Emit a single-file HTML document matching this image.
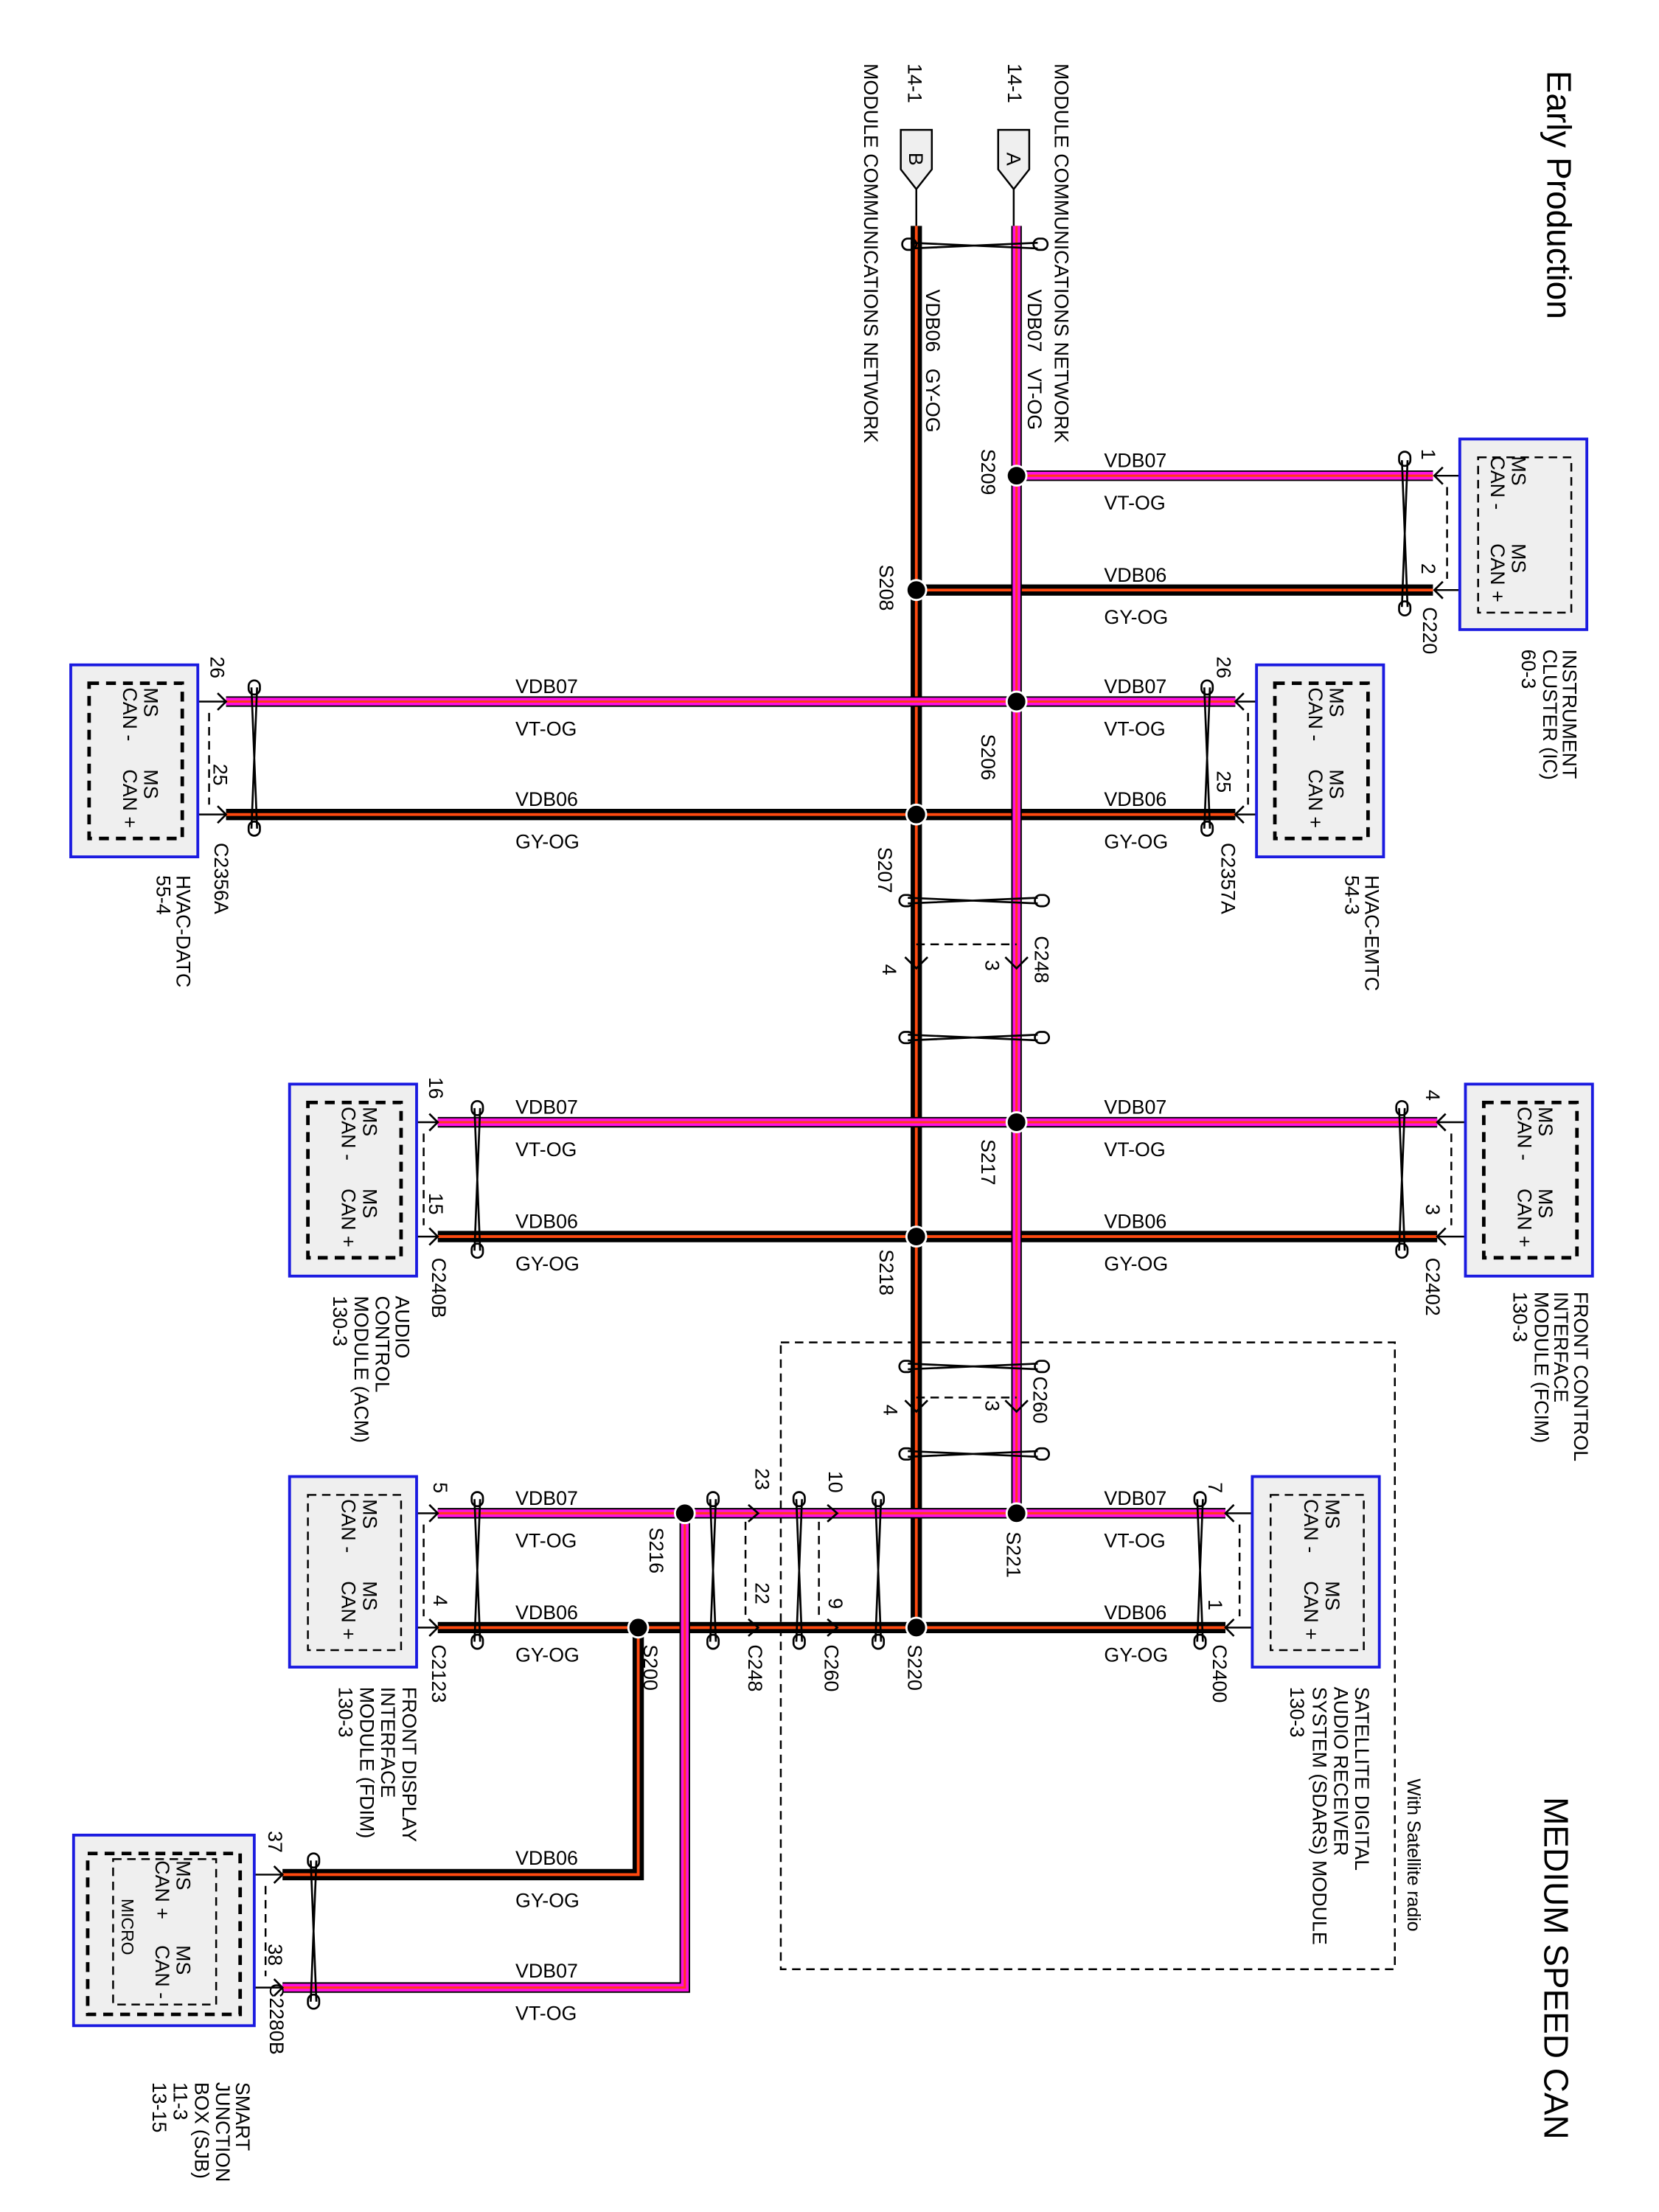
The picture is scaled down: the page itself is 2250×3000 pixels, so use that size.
<!DOCTYPE html>
<html><head><meta charset="utf-8"><style>
html,body{margin:0;padding:0;background:#fff}
svg{display:block}
text{font-family:"Liberation Sans",Arial,sans-serif;font-size:14px;fill:#000}
.big{font-size:24px}
.bo{fill:none;stroke:#000;stroke-width:8}
.pk{fill:none;stroke:#ff10e0;stroke-width:5.5}
.ps{fill:none;stroke:#ff3a1a;stroke-width:1.6}
.bs{fill:none;stroke:#ff4a10;stroke-width:2}
.thin{fill:none;stroke:#000;stroke-width:1.3}
.dash{fill:none;stroke:#000;stroke-width:1.3;stroke-dasharray:6 4}
.dashb{fill:none;stroke:#000;stroke-width:2.5;stroke-dasharray:7 5}
.box{fill:#efefef;stroke:#1a1ae0;stroke-width:2}
.tw{fill:none;stroke:#000;stroke-width:1.4}
</style></head><body>
<svg width="2250" height="3000" viewBox="0 0 1175 1567" xmlns="http://www.w3.org/2000/svg">
<defs>
<path id="b1" d="M649 160 V1153"/>
<path id="b2" d="M649 418 H1015"/>
<path id="b3" d="M160 577 H875"/>
<path id="b4" d="M310 876 H1018"/>
<path id="b5" d="M310 1153 H868"/>
<path id="b6" d="M452 1153 V1328 H200"/>
<path id="p1" d="M720 160 V1072"/>
<path id="p2" d="M720 337 H1015"/>
<path id="p3" d="M160 497 H875"/>
<path id="p4" d="M310 795 H1018"/>
<path id="p5" d="M310 1072 H868"/>
<path id="p6" d="M485 1072 V1408 H200"/>
</defs>

<rect x="553" y="951" width="435" height="444" class="dash" stroke-width="1.5"/>

<g class="bo"><use href="#b1"/><use href="#b2"/><use href="#b3"/><use href="#b4"/><use href="#b5"/><use href="#b6"/></g>
<g class="bs"><use href="#b1"/><use href="#b2"/><use href="#b3"/><use href="#b4"/><use href="#b5"/><use href="#b6"/></g>
<g class="bo" style="stroke-width:7.5"><use href="#p1"/><use href="#p2"/><use href="#p3"/><use href="#p4"/><use href="#p5"/><use href="#p6"/></g>
<g class="pk"><use href="#p1"/><use href="#p2"/><use href="#p3"/><use href="#p4"/><use href="#p5"/><use href="#p6"/></g>
<g class="ps"><use href="#p1"/><use href="#p2"/><use href="#p3"/><use href="#p4"/><use href="#p5"/><use href="#p6"/></g>

<path d="M707 92 H729 V120 L718 134 L707 120 Z" fill="#efefef" stroke="#000" stroke-width="1.3"/>
<path d="M638 92 H660 V120 L649 134 L638 120 Z" fill="#efefef" stroke="#000" stroke-width="1.3"/>
<line x1="718" y1="134" x2="718" y2="160" class="thin"/>
<line x1="649" y1="134" x2="649" y2="160" class="thin"/>
<text transform="translate(713,108) rotate(90)">A</text>
<text transform="translate(644,108) rotate(90)">B</text>

<g fill="#000" stroke="#fff" stroke-width="1.5">
<circle cx="720" cy="337" r="7"/><circle cx="649" cy="418" r="7"/>
<circle cx="720" cy="497" r="7"/><circle cx="649" cy="577" r="7"/>
<circle cx="720" cy="795" r="7"/><circle cx="649" cy="876" r="7"/>
<circle cx="720" cy="1072" r="7"/><circle cx="649" cy="1153" r="7"/>
<circle cx="485" cy="1072" r="7"/><circle cx="452" cy="1153" r="7"/>
</g>

<g class="tw">
<path d="M993 326 L997 430 M997 326 L993 430"/><rect x="991" y="320" width="8" height="10" rx="4"/><rect x="991" y="426" width="8" height="10" rx="4"/>
<path d="M178 487 L182 587 M182 487 L178 587"/><rect x="176" y="482" width="8" height="10" rx="4"/><rect x="176" y="582" width="8" height="10" rx="4"/>
<path d="M853 487 L857 587 M857 487 L853 587"/><rect x="851" y="482" width="8" height="10" rx="4"/><rect x="851" y="582" width="8" height="10" rx="4"/>
<path d="M991 785 L995 886 M995 785 L991 886"/><rect x="989" y="780" width="8" height="10" rx="4"/><rect x="989" y="881" width="8" height="10" rx="4"/>
<path d="M336 785 L340 886 M340 785 L336 886"/><rect x="334" y="780" width="8" height="10" rx="4"/><rect x="334" y="881" width="8" height="10" rx="4"/>
<path d="M848 1062 L852 1163 M852 1062 L848 1163"/><rect x="846" y="1057" width="8" height="10" rx="4"/><rect x="846" y="1158" width="8" height="10" rx="4"/>
<path d="M620 1062 L624 1163 M624 1062 L620 1163"/><rect x="618" y="1057" width="8" height="10" rx="4"/><rect x="618" y="1158" width="8" height="10" rx="4"/>
<path d="M564 1062 L568 1163 M568 1062 L564 1163"/><rect x="562" y="1057" width="8" height="10" rx="4"/><rect x="562" y="1158" width="8" height="10" rx="4"/>
<path d="M503 1062 L507 1163 M507 1062 L503 1163"/><rect x="501" y="1057" width="8" height="10" rx="4"/><rect x="501" y="1158" width="8" height="10" rx="4"/>
<path d="M336 1062 L340 1163 M340 1062 L336 1163"/><rect x="334" y="1057" width="8" height="10" rx="4"/><rect x="334" y="1158" width="8" height="10" rx="4"/>
<path d="M220 1318 L224 1418 M224 1318 L220 1418"/><rect x="218" y="1313" width="8" height="10" rx="4"/><rect x="218" y="1413" width="8" height="10" rx="4"/>
<path d="M645 172 L735 176 M645 176 L735 172"/><rect x="639" y="169" width="10" height="8" rx="4"/><rect x="732" y="169" width="10" height="8" rx="4"/>
<path d="M643 636 L735 640 M643 640 L735 636"/><rect x="637" y="634" width="10" height="8" rx="4"/><rect x="733" y="634" width="10" height="8" rx="4"/>
<path d="M643 733 L735 737 M643 737 L735 733"/><rect x="637" y="731" width="10" height="8" rx="4"/><rect x="733" y="731" width="10" height="8" rx="4"/>
<path d="M643 966 L735 970 M643 970 L735 966"/><rect x="637" y="964" width="10" height="8" rx="4"/><rect x="733" y="964" width="10" height="8" rx="4"/>
<path d="M643 1028 L735 1032 M643 1032 L735 1028"/><rect x="637" y="1026" width="10" height="8" rx="4"/><rect x="733" y="1026" width="10" height="8" rx="4"/>
</g>

<path d="M649 669 H720" class="dash"/>
<path d="M641 678 L649 686 L657 678 M712 678 L720 686 L728 678" class="tw" stroke-width="2"/>
<path d="M649 990 H720" class="dash"/>
<path d="M641 992 L649 1000 L657 992 M712 992 L720 1000 L728 992" class="tw" stroke-width="2"/>
<path d="M530 1066 L537 1072 L530 1078 M530 1147 L537 1153 L530 1159" class="tw" stroke-width="2"/>
<path d="M586 1066 L593 1072 L586 1078 M586 1147 L593 1153 L586 1159" class="tw" stroke-width="2"/>
<path d="M528 1078 V1147 M580 1078 V1147" class="dash"/>

<g class="tw" stroke-width="2">
<path d="M1022 331 L1016 337 L1022 343 M1022 412 L1016 418 L1022 424"/>
<path d="M154 491 L160 497 L154 503 M154 571 L160 577 L154 583"/>
<path d="M881 491 L875 497 L881 503 M881 571 L875 577 L881 583"/>
<path d="M304 789 L310 795 L304 801 M304 870 L310 876 L304 882"/>
<path d="M1024 789 L1018 795 L1024 801 M1024 870 L1018 876 L1024 882"/>
<path d="M304 1066 L310 1072 L304 1078 M304 1147 L310 1153 L304 1159"/>
<path d="M874 1066 L868 1072 L874 1078 M874 1147 L868 1153 L874 1159"/>
<path d="M194 1322 L200 1328 L194 1334 M194 1402 L200 1408 L194 1414"/>
</g>
<g class="thin">
<path d="M1016 337 H1042 M1016 418 H1042"/>
<path d="M160 497 H130 M160 577 H130"/>
<path d="M875 497 H903 M875 577 H903"/>
<path d="M310 795 H283 M310 876 H283"/>
<path d="M1018 795 H1047 M1018 876 H1047"/>
<path d="M310 1072 H283 M310 1153 H283"/>
<path d="M868 1072 H897 M868 1153 H897"/>
<path d="M200 1328 H153 V1317 M200 1408 H153 V1420"/>
</g>
<g class="dash">
<path d="M1025 345 V410"/><path d="M148 505 V570"/><path d="M884 505 V570"/>
<path d="M300 803 V868"/><path d="M1028 803 V868"/><path d="M300 1080 V1145"/>
<path d="M878 1080 V1145"/><path d="M188 1336 V1400"/>
</g>

<rect x="1034" y="311" width="90" height="135" class="box"/>
<rect x="1047" y="324" width="66" height="110" class="dash" stroke-width="1.5"/>
<rect x="50" y="471" width="90" height="136" class="box"/>
<rect x="63" y="484" width="66" height="110" class="dashb"/>
<rect x="890" y="471" width="90" height="136" class="box"/>
<rect x="903" y="484" width="66" height="110" class="dashb"/>
<rect x="205" y="768" width="90" height="136" class="box"/>
<rect x="218" y="781" width="66" height="110" class="dashb"/>
<rect x="1038" y="768" width="90" height="136" class="box"/>
<rect x="1051" y="781" width="66" height="110" class="dashb"/>
<rect x="205" y="1046" width="90" height="135" class="box"/>
<rect x="218" y="1059" width="66" height="110" class="dash" stroke-width="1.5"/>
<rect x="887" y="1046" width="90" height="135" class="box"/>
<rect x="900" y="1059" width="66" height="110" class="dash" stroke-width="1.5"/>
<rect x="52" y="1300" width="128" height="135" class="box"/>
<rect x="62" y="1313" width="108" height="114" class="dashb"/>
<rect x="80" y="1317" width="73" height="103" class="dash" stroke-width="1.5"/>

<g>
<text transform="translate(1071,323) rotate(90)">MS</text><text transform="translate(1056,323) rotate(90)">CAN -</text>
<text transform="translate(1071,385) rotate(90)">MS</text><text transform="translate(1056,385) rotate(90)">CAN +</text>
<text transform="translate(102,487) rotate(90)">MS</text><text transform="translate(87,487) rotate(90)">CAN -</text>
<text transform="translate(102,545) rotate(90)">MS</text><text transform="translate(87,545) rotate(90)">CAN +</text>
<text transform="translate(942,487) rotate(90)">MS</text><text transform="translate(927,487) rotate(90)">CAN -</text>
<text transform="translate(942,545) rotate(90)">MS</text><text transform="translate(927,545) rotate(90)">CAN +</text>
<text transform="translate(257,784) rotate(90)">MS</text><text transform="translate(242,784) rotate(90)">CAN -</text>
<text transform="translate(257,842) rotate(90)">MS</text><text transform="translate(242,842) rotate(90)">CAN +</text>
<text transform="translate(1090,784) rotate(90)">MS</text><text transform="translate(1075,784) rotate(90)">CAN -</text>
<text transform="translate(1090,842) rotate(90)">MS</text><text transform="translate(1075,842) rotate(90)">CAN +</text>
<text transform="translate(257,1062) rotate(90)">MS</text><text transform="translate(242,1062) rotate(90)">CAN -</text>
<text transform="translate(257,1120) rotate(90)">MS</text><text transform="translate(242,1120) rotate(90)">CAN +</text>
<text transform="translate(939,1062) rotate(90)">MS</text><text transform="translate(924,1062) rotate(90)">CAN -</text>
<text transform="translate(939,1120) rotate(90)">MS</text><text transform="translate(924,1120) rotate(90)">CAN +</text>
<text transform="translate(125,1318) rotate(90)">MS</text><text transform="translate(110,1318) rotate(90)">CAN +</text>
<text transform="translate(125,1378) rotate(90)">MS</text><text transform="translate(110,1378) rotate(90)">CAN -</text>
<text transform="translate(86,1345) rotate(90)" style="font-size:12px">MICRO</text>
</g>

<g>
<text x="782" y="331">VDB07</text><text x="782" y="361">VT-OG</text>
<text x="782" y="412">VDB06</text><text x="782" y="442">GY-OG</text>
<text x="365" y="491">VDB07</text><text x="365" y="521">VT-OG</text>
<text x="365" y="571">VDB06</text><text x="365" y="601">GY-OG</text>
<text x="782" y="491">VDB07</text><text x="782" y="521">VT-OG</text>
<text x="782" y="571">VDB06</text><text x="782" y="601">GY-OG</text>
<text x="365" y="789">VDB07</text><text x="365" y="819">VT-OG</text>
<text x="365" y="870">VDB06</text><text x="365" y="900">GY-OG</text>
<text x="782" y="789">VDB07</text><text x="782" y="819">VT-OG</text>
<text x="782" y="870">VDB06</text><text x="782" y="900">GY-OG</text>
<text x="365" y="1066">VDB07</text><text x="365" y="1096">VT-OG</text>
<text x="365" y="1147">VDB06</text><text x="365" y="1177">GY-OG</text>
<text x="782" y="1066">VDB07</text><text x="782" y="1096">VT-OG</text>
<text x="782" y="1147">VDB06</text><text x="782" y="1177">GY-OG</text>
<text x="365" y="1321">VDB06</text><text x="365" y="1351">GY-OG</text>
<text x="365" y="1401">VDB07</text><text x="365" y="1431">VT-OG</text>
</g>

<g>
<text class="big" transform="translate(1096,50) rotate(90)">Early Production</text>
<text class="big" transform="translate(1094,1273) rotate(90)">MEDIUM SPEED CAN</text>
<text transform="translate(747,45) rotate(90)">MODULE COMMUNICATIONS NETWORK</text>
<text transform="translate(714,45) rotate(90)">14-1</text>
<text transform="translate(643,45) rotate(90)">14-1</text>
<text transform="translate(612,45) rotate(90)">MODULE COMMUNICATIONS NETWORK</text>
<text transform="translate(728,205) rotate(90)">VDB07&#160;&#160;&#160;VT-OG</text>
<text transform="translate(656,205) rotate(90)">VDB06&#160;&#160;&#160;GY-OG</text>
<text transform="translate(695,318) rotate(90)">S209</text>
<text transform="translate(623,400) rotate(90)">S208</text>
<text transform="translate(1007,318) rotate(90)">1</text>
<text transform="translate(1007,399) rotate(90)">2</text>
<text transform="translate(1008,430) rotate(90)">C220</text>
<text transform="translate(1107,460) rotate(90)">INSTRUMENT</text>
<text transform="translate(1093,460) rotate(90)">CLUSTER (IC)</text>
<text transform="translate(1078,460) rotate(90)">60-3</text>
<text transform="translate(695,520) rotate(90)">S206</text>
<text transform="translate(622,600) rotate(90)">S207</text>
<text transform="translate(149,465) rotate(90)">26</text>
<text transform="translate(151,541) rotate(90)">25</text>
<text transform="translate(862,465) rotate(90)">26</text>
<text transform="translate(862,546) rotate(90)">25</text>
<text transform="translate(152,597) rotate(90)">C2356A</text>
<text transform="translate(865,597) rotate(90)">C2357A</text>
<text transform="translate(125,620) rotate(90)">HVAC-DATC</text>
<text transform="translate(111,620) rotate(90)">55-4</text>
<text transform="translate(967,620) rotate(90)">HVAC-EMTC</text>
<text transform="translate(953,620) rotate(90)">54-3</text>
<text transform="translate(625,683) rotate(90)">4</text>
<text transform="translate(698,680) rotate(90)">3</text>
<text transform="translate(733,663) rotate(90)">C248</text>
<text transform="translate(695,807) rotate(90)">S217</text>
<text transform="translate(623,885) rotate(90)">S218</text>
<text transform="translate(304,763) rotate(90)">16</text>
<text transform="translate(304,845) rotate(90)">15</text>
<text transform="translate(1010,772) rotate(90)">4</text>
<text transform="translate(1010,853) rotate(90)">3</text>
<text transform="translate(306,891) rotate(90)">C240B</text>
<text transform="translate(1010,891) rotate(90)">C2402</text>
<text transform="translate(280,918) rotate(90)">AUDIO</text>
<text transform="translate(266,918) rotate(90)">CONTROL</text>
<text transform="translate(251,918) rotate(90)">MODULE (ACM)</text>
<text transform="translate(236,918) rotate(90)">130-3</text>
<text transform="translate(1115,915) rotate(90)">FRONT CONTROL</text>
<text transform="translate(1101,915) rotate(90)">INTERFACE</text>
<text transform="translate(1087,915) rotate(90)">MODULE (FCIM)</text>
<text transform="translate(1072,915) rotate(90)">130-3</text>
<text transform="translate(626,995) rotate(90)">4</text>
<text transform="translate(698,992) rotate(90)">3</text>
<text transform="translate(732,975) rotate(90)">C260</text>
<text transform="translate(713,1085) rotate(90)">S221</text>
<text transform="translate(643,1165) rotate(90)">S220</text>
<text transform="translate(856,1050) rotate(90)">7</text>
<text transform="translate(856,1133) rotate(90)">1</text>
<text transform="translate(859,1165) rotate(90)">C2400</text>
<text transform="translate(587,1042) rotate(90)">10</text>
<text transform="translate(587,1132) rotate(90)">9</text>
<text transform="translate(584,1165) rotate(90)">C260</text>
<text transform="translate(535,1040) rotate(90)">23</text>
<text transform="translate(535,1121) rotate(90)">22</text>
<text transform="translate(530,1165) rotate(90)">C248</text>
<text transform="translate(460,1082) rotate(90)">S216</text>
<text transform="translate(456,1165) rotate(90)">S200</text>
<text transform="translate(307,1050) rotate(90)">5</text>
<text transform="translate(307,1130) rotate(90)">4</text>
<text transform="translate(306,1165) rotate(90)">C2123</text>
<text transform="translate(285,1195) rotate(90)">FRONT DISPLAY</text>
<text transform="translate(270,1195) rotate(90)">INTERFACE</text>
<text transform="translate(255,1195) rotate(90)">MODULE (FDIM)</text>
<text transform="translate(240,1195) rotate(90)">130-3</text>
<text transform="translate(960,1195) rotate(90)">SATELLITE DIGITAL</text>
<text transform="translate(945,1195) rotate(90)">AUDIO RECEIVER</text>
<text transform="translate(930,1195) rotate(90)">SYSTEM (SDARS) MODULE</text>
<text transform="translate(914,1195) rotate(90)">130-3</text>
<text transform="translate(997,1260) rotate(90)" style="font-size:13px">With Satellite radio</text>
<text transform="translate(190,1297) rotate(90)">37</text>
<text transform="translate(190,1377) rotate(90)">38</text>
<text transform="translate(191,1405) rotate(90)">C2280B</text>
<text transform="translate(167,1475) rotate(90)">SMART</text>
<text transform="translate(153,1475) rotate(90)">JUNCTION</text>
<text transform="translate(138,1475) rotate(90)">BOX (SJB)</text>
<text transform="translate(123,1475) rotate(90)">11-3</text>
<text transform="translate(108,1475) rotate(90)">13-15</text>
</g>
</svg>
</body></html>
